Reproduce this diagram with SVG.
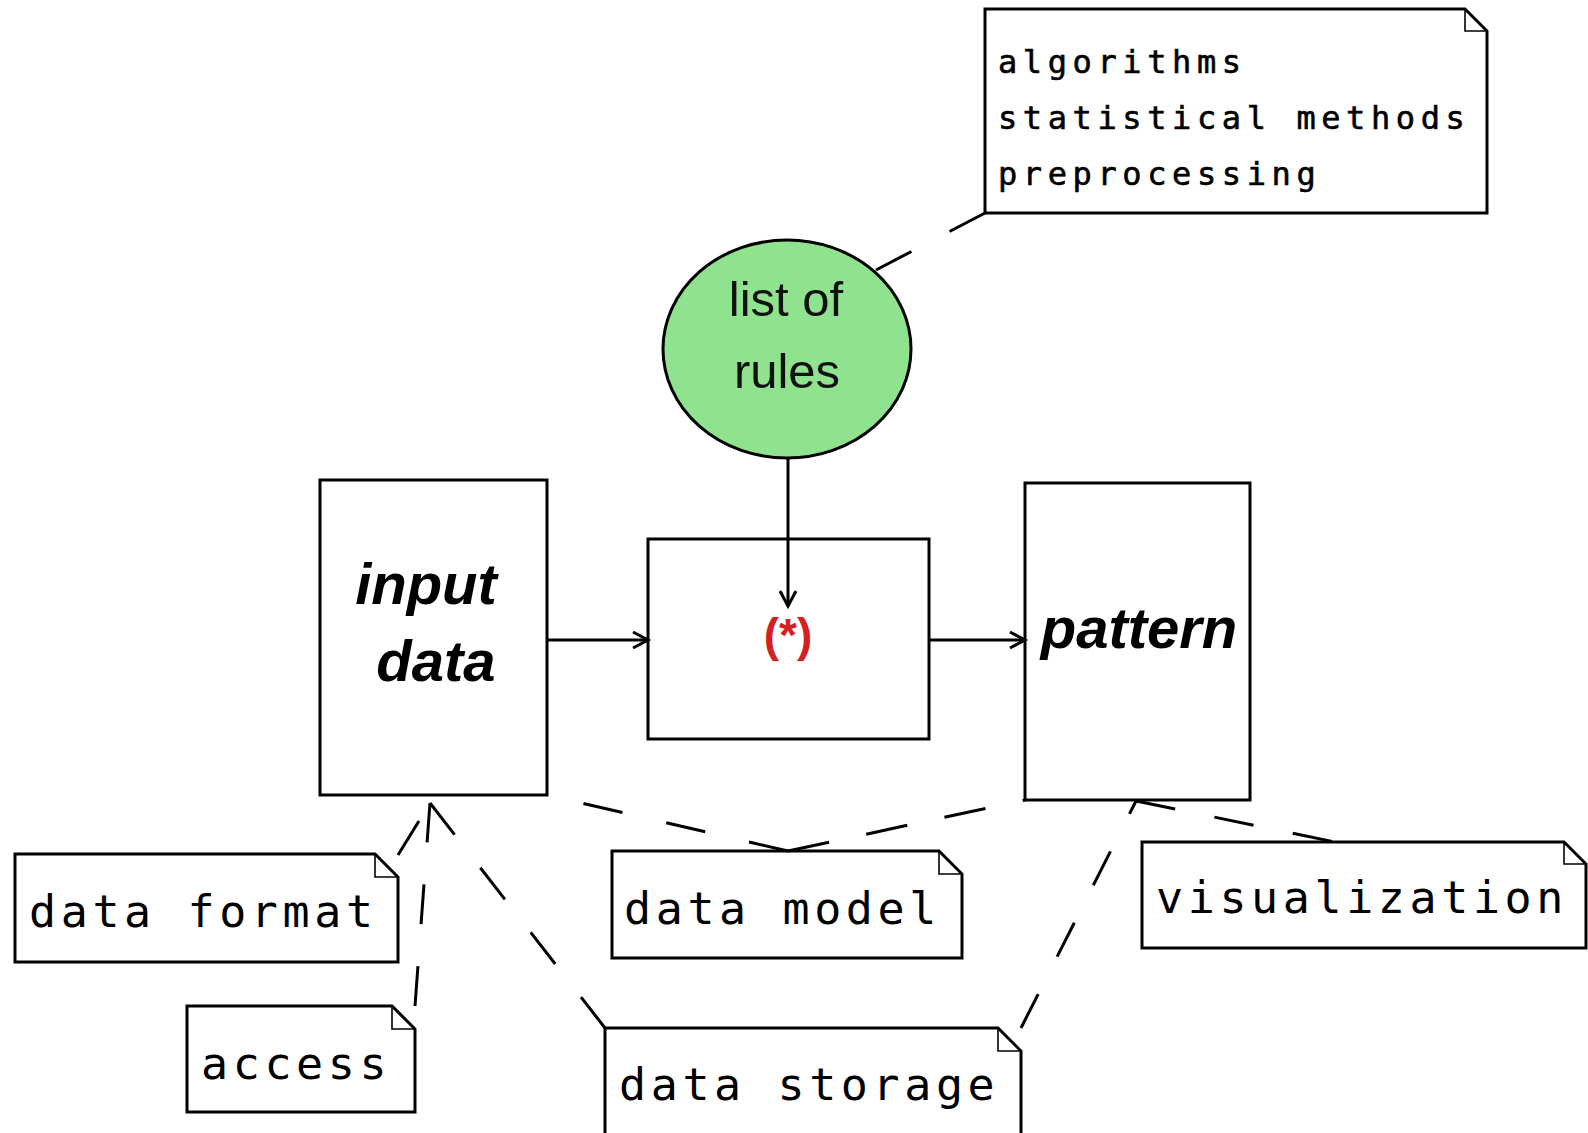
<svg xmlns="http://www.w3.org/2000/svg" width="1588" height="1133" viewBox="0 0 1588 1133">
<style>
.box{fill:#fff;stroke:#000;stroke-width:3}
.note{fill:#fff;stroke:#000;stroke-width:3;stroke-linejoin:miter}
.fold{fill:none;stroke:#000;stroke-width:1.6}
.mono{font-family:"DejaVu Sans Mono","Liberation Mono",monospace;font-size:45px;letter-spacing:4.6px;fill:#000}
.mono-s{font-family:"DejaVu Sans Mono","Liberation Mono",monospace;font-size:32px;letter-spacing:5.6px;fill:#000;stroke:#000;stroke-width:0.6}
.bi{font-family:"Liberation Sans",Arial,sans-serif;font-weight:bold;font-style:italic;font-size:58px;fill:#000;text-anchor:middle}
.sans{font-family:"Liberation Sans",Arial,sans-serif;font-size:49px;fill:#111;text-anchor:middle}
.dash{fill:none;stroke:#000;stroke-width:3}
.arrow{fill:none;stroke:#000;stroke-width:3;marker-end:url(#open)}
</style>
<defs>
<marker id="open" markerUnits="userSpaceOnUse" markerWidth="24" markerHeight="24" refX="18" refY="10" orient="auto">
<path d="M3,2 L18,10 L3,18" fill="none" stroke="#000" stroke-width="3"/>
</marker>
</defs>
<rect width="1588" height="1133" fill="#fff"/>

<g id="note-top">
<path class="note" d="M985,9 H1465 L1487,31 V213 H985 Z"/>
<path class="fold" d="M1465,9 V31 H1487"/>
<text class="mono-s" x="998" y="73">algorithms</text>
<text class="mono-s" x="998" y="129">statistical methods</text>
<text class="mono-s" x="998" y="185">preprocessing</text>
</g>

<g id="rules">
<ellipse cx="787" cy="349" rx="124" ry="109" fill="#8fe38f" stroke="#000" stroke-width="3"/>
<text class="sans" x="786" y="316">list of</text>
<text class="sans" x="787" y="388">rules</text>
</g>

<g id="input">
<rect class="box" x="320" y="480" width="227" height="315"/>
<text class="bi" x="426" y="604">input</text>
<text class="bi" x="436" y="681">data</text>
</g>

<g id="process">
<rect class="box" x="648" y="539" width="281" height="200"/>
<text x="788" y="651" font-family="'Liberation Sans',Arial,sans-serif" font-weight="bold" font-size="46" fill="#d42020" text-anchor="middle">(*)</text>
</g>

<g id="pattern">
<rect class="box" x="1025" y="483" width="225" height="317"/>
<text class="bi" x="1139" y="648">pattern</text>
</g>

<g id="note-format">
<path class="note" d="M15,854 H375 L398,877 V962 H15 Z"/>
<path class="fold" d="M375,854 V877 H398"/>
<text class="mono" x="29" y="927">data format</text>
</g>

<g id="note-access">
<path class="note" d="M187,1006 H392 L415,1029 V1112 H187 Z"/>
<path class="fold" d="M392,1006 V1029 H415"/>
<text class="mono" x="201" y="1079">access</text>
</g>

<g id="note-model">
<path class="note" d="M612,851 H939 L962,874 V958 H612 Z"/>
<path class="fold" d="M939,851 V874 H962"/>
<text class="mono" x="624" y="924">data model</text>
</g>

<g id="note-storage">
<path class="note" d="M605,1028 H998 L1021,1051 V1145 H605 Z"/>
<path class="fold" d="M998,1028 V1051 H1021"/>
<text class="mono" x="619" y="1100">data storage</text>
</g>

<g id="note-visualization">
<path class="note" d="M1142,842 H1564 L1586,864 V948 H1142 Z"/>
<path class="fold" d="M1564,842 V864 H1586"/>
<text class="mono" x="1156" y="913">visualization</text>
</g>

<g id="connectors">
<path class="arrow" d="M788,458 V606"/>
<path class="arrow" d="M547,640 H648"/>
<path class="arrow" d="M929,640 H1025"/>
<path class="dash" stroke-dasharray="40 43" d="M985,213 L876,270"/>
<path class="dash" stroke-dasharray="40 40" d="M398,855 L430,803"/>
<path class="dash" stroke-dasharray="40 42" d="M415,1006 L430,803"/>
<path class="dash" stroke-dasharray="40 42" d="M430,803 L605,1028"/>
<path class="dash" stroke-dasharray="40 45" d="M788,851 L547,795"/>
<path class="dash" stroke-dasharray="42 38" d="M788,851 L1025,800"/>
<path class="dash" stroke-dasharray="40 40" d="M1136,801 L1335,842"/>
<path class="dash" stroke-dasharray="38 42" d="M1021,1028 L1136,801"/>
</g>
</svg>
